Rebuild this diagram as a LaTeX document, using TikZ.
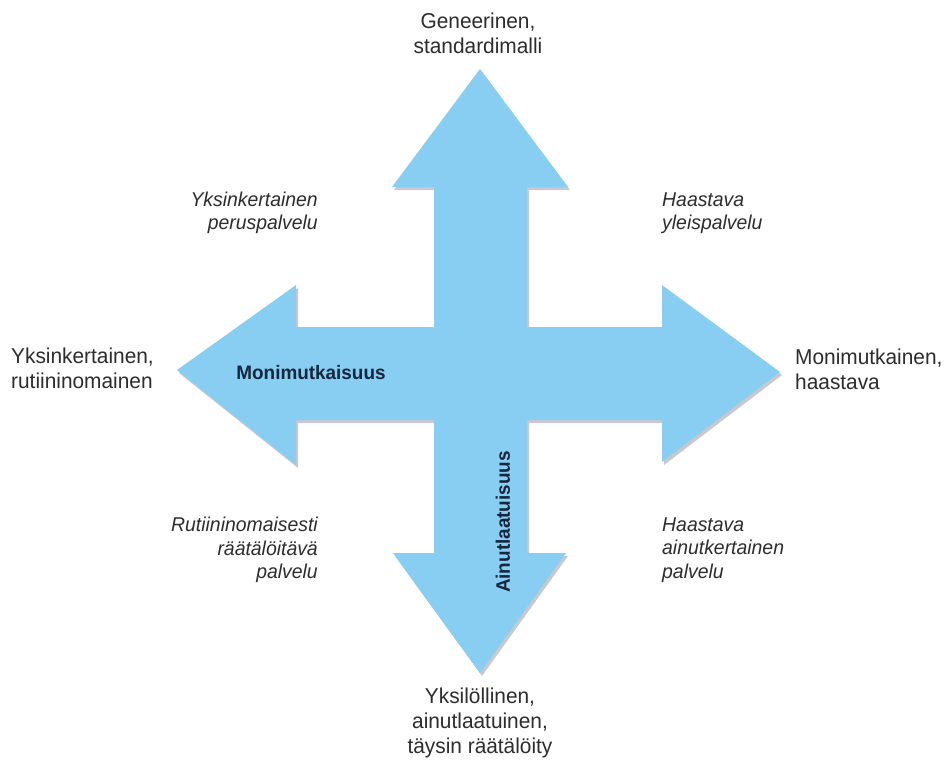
\documentclass[tikz,border=0pt]{standalone}
\usepackage{fontspec}
\setmainfont[FakeStretch=0.97]{Liberation Sans}
\definecolor{crossblue}{RGB}{135,206,242}
\definecolor{crossshade}{RGB}{200,200,206}
\definecolor{labelgrey}{RGB}{45,45,45}
\definecolor{axisnavy}{RGB}{22,38,60}
\tikzset{
  endlabel/.style={text=labelgrey, font=\fontsize{21.5}{25}\selectfont, inner sep=0pt},
  quadlabel/.style={text=labelgrey, font=\fontsize{20}{23.5}\selectfont\itshape, inner sep=0pt},
  axislabel/.style={text=axisnavy, font=\fontsize{19.5}{24}\selectfont\bfseries, inner sep=0pt}
}
\begin{document}
\begin{tikzpicture}[x=1pt,y=-1pt]
\useasboundingbox (0,0) rectangle (949,769);
\fill[white] (0,0) rectangle (949,769);
% four-headed arrow outline
\def\crosspath{(480,69) -- (568,187) -- (527,187) -- (527,327) -- (662,327) -- (662,285)
  -- (780,372) -- (662,462) -- (662,420) -- (527,420) -- (527,553) -- (566,553)
  -- (480,673) -- (393,553) -- (434,553) -- (434,420) -- (296,420) -- (296,465)
  -- (177,370) -- (296,285) -- (296,327) -- (434,327) -- (434,187) -- (392,187) -- cycle}
\fill[crossshade, shift={(2,3)}] \crosspath;
\fill[crossblue] \crosspath;
% axis names
\node[axislabel] (axisH) at (311,373) {Monimutkaisuus};
\node[axislabel, rotate=90] (axisV) at (503,522) {Ainutlaatuisuus};
% arrow-end labels
\node[endlabel, align=center] (top) at (478,33) {Geneerinen,\\standardimalli};
\node[endlabel, align=left, anchor=west] (left) at (11,368) {Yksinkertainen,\\rutiininomainen};
\node[endlabel, align=left, anchor=west] (right) at (795,369) {Monimutkainen,\\haastava};
\node[endlabel, align=center] (bottom) at (480,723) {Yksilöllinen,\\ainutlaatuinen,\\täysin räätälöity};
% quadrant labels
\node[quadlabel, align=right, anchor=east] (qTL) at (318,213) {Yksinkertainen\\peruspalvelu};
\node[quadlabel, align=left, anchor=west] (qTR) at (662,213) {Haastava\\yleispalvelu};
\node[quadlabel, align=right, anchor=east] (qBL) at (318,550) {Rutiininomaisesti\\räätälöitävä\\palvelu};
\node[quadlabel, align=left, anchor=west] (qBR) at (662,550) {Haastava\\ainutkertainen\\palvelu};
\end{tikzpicture}
\end{document}
